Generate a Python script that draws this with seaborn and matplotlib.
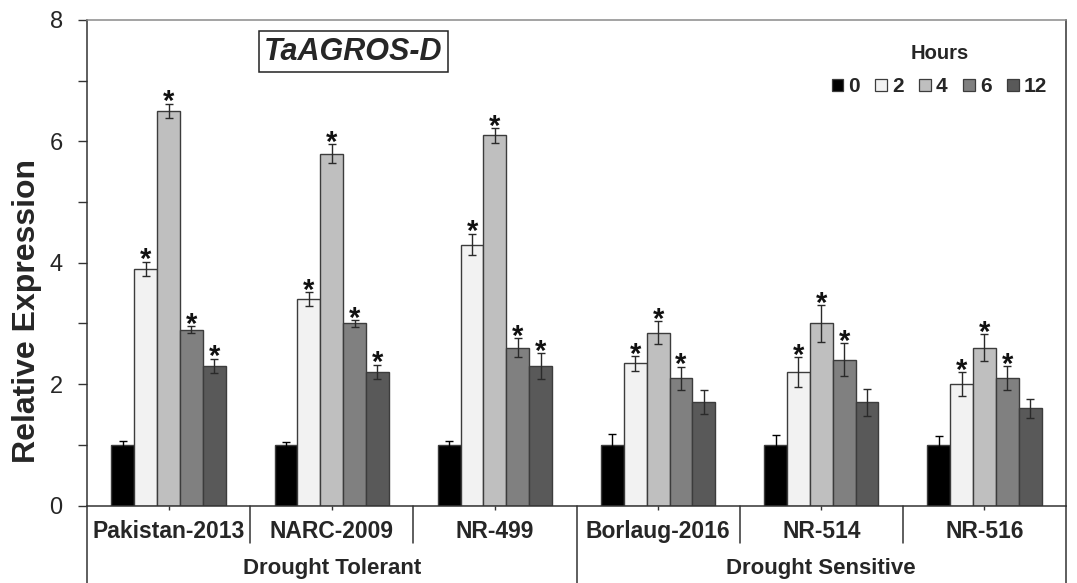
import numpy as np
import pandas as pd
import matplotlib
matplotlib.use("Agg")
import matplotlib.pyplot as plt
from matplotlib.patches import Patch
import seaborn as sns

# Cultivars and sampling times
categories = ["Pakistan-2013", "NARC-2009", "NR-499", "Borlaug-2016", "NR-514", "NR-516"]
groups = ["Drought Tolerant", "Drought Sensitive"]
hours = ["0", "2", "4", "6", "12"]

# Mean relative expression per time point
expr_0 = [1.0, 1.0, 1.0, 1.0, 1.0, 1.0]
expr_2 = [3.9, 3.4, 4.3, 2.34, 2.2, 2.0]
expr_4 = [6.5, 5.8, 6.1, 2.85, 3.0, 2.6]
expr_6 = [2.9, 3.0, 2.6, 2.1, 2.4, 2.1]
expr_12 = [2.3, 2.2, 2.3, 1.7, 1.7, 1.6]

# Standard errors
err_0 = [0.07, 0.05, 0.06, 0.17, 0.16, 0.15]
err_2 = [0.12, 0.12, 0.18, 0.12, 0.25, 0.20]
err_4 = [0.12, 0.16, 0.12, 0.19, 0.30, 0.22]
err_6 = [0.06, 0.06, 0.16, 0.19, 0.27, 0.20]
err_12 = [0.12, 0.12, 0.21, 0.20, 0.22, 0.16]

# Significance marks (1 = significant vs. 0 h)
sig_0 = [0, 0, 0, 0, 0, 0]
sig_2 = [1, 1, 1, 1, 1, 1]
sig_4 = [1, 1, 1, 1, 1, 1]
sig_6 = [1, 1, 1, 1, 1, 1]
sig_12 = [1, 1, 1, 0, 0, 0]

colors = ["#000000", "#f2f2f2", "#bfbfbf", "#808080", "#595959"]

values = [expr_0, expr_2, expr_4, expr_6, expr_12]
errors = [err_0, err_2, err_4, err_6, err_12]
sigs = [sig_0, sig_2, sig_4, sig_6, sig_12]

df = pd.DataFrame({
    "Cultivar": np.tile(categories, len(hours)),
    "Hours": np.repeat(hours, len(categories)),
    "Expression": np.concatenate(values),
})

sns.set_style("ticks")
plt.rcParams["font.family"] = ["Liberation Sans", "DejaVu Sans"]

fig = plt.figure(figsize=(10.77, 5.83), dpi=100)
ax = fig.add_axes([87 / 1077, 1 - 505.5 / 583, (1066 - 87) / 1077, (505.5 - 20) / 583])

sns.barplot(data=df, x="Cultivar", y="Expression", hue="Hours", order=categories,
            hue_order=hours, palette=colors, width=0.7, errorbar=None,
            edgecolor="#3c3c3c", linewidth=1.0, ax=ax, legend=False)

# Error bars and significance stars on each bar
for container, err, sig, col in zip(ax.containers, errors, sigs, colors):
    for bar, e, s in zip(container, err, sig):
        xc = bar.get_x() + bar.get_width() / 2
        h = bar.get_height()
        ecol = "#000000" if col == "#000000" else "#2a2a2a"
        ax.errorbar(xc, h, yerr=e, fmt="none", ecolor=ecol, elinewidth=1.0,
                    capsize=3.2, capthick=1.0, zorder=4)
        if s:
            ax.annotate("*", (xc, h + e), xytext=(0, -4.8), textcoords="offset points",
                        ha="center", va="baseline", fontsize=21, fontweight="bold",
                        color="#111111")

ax.set_xlim(-0.5, len(categories) - 0.5)
ax.set_ylim(0, 8)
ax.set_yticks([0, 2, 4, 6, 8])
ax.set_yticks([1, 3, 5, 7], minor=True)
ax.tick_params(axis="y", which="both", direction="out", length=6.5, width=1.0,
               color="#333333", labelsize=17, pad=11)
ax.tick_params(axis="x", which="major", direction="out", length=3, width=1.0,
               color="#333333", labelsize=15, pad=0)
ax.set_xticks(range(len(categories)))
ax.set_xticklabels([])
ax.set_xlabel("")
ax.set_ylabel("Relative Expression", fontsize=23, fontweight="bold")
ax.yaxis.set_label_coords(-0.046, 0.40)

for side in ["left", "bottom", "right", "top"]:
    ax.spines[side].set_visible(True)
    ax.spines[side].set_color("#333333")
    ax.spines[side].set_linewidth(1.1)
ax.spines["top"].set_color("#8a8a8a")

# Cultivar labels and separators below the axis
trans = ax.get_xaxis_transform()
for i, name in enumerate(categories):
    ax.text(i, -0.054, name, transform=trans, ha="center", va="center",
            fontsize=16.5, fontweight="bold")
for xb in [0.5, 1.5, 3.5, 4.5]:
    ax.plot([xb, xb], [0, -0.077], transform=trans, color="#333333", lw=1.1,
            clip_on=False)
for xb in [-0.5, 2.5, 5.5]:
    ax.plot([xb, xb], [0, -0.17], transform=trans, color="#333333", lw=1.1,
            clip_on=False)
ax.text(1.0, -0.129, groups[0], transform=trans, ha="center", va="center",
        fontsize=16, fontweight="bold")
ax.text(4.0, -0.129, groups[1], transform=trans, ha="center", va="center",
        fontsize=16, fontweight="bold")

# Gene name box
ax.text(0.272, 0.935, "TaAGROS-D", transform=ax.transAxes, ha="center", va="center",
        fontsize=22, fontweight="bold", fontstyle="italic",
        bbox=dict(boxstyle="square,pad=0.18", facecolor="white", edgecolor="#222222",
                  linewidth=1.1))

handles = [Patch(facecolor=c, edgecolor="#3c3c3c", linewidth=0.9) for c in colors]
leg = ax.legend(handles, hours, title="Hours", ncol=5, loc="upper right",
                bbox_to_anchor=(1.0, 0.99), frameon=False, handlelength=0.55,
                handleheight=0.55, handletextpad=0.25, columnspacing=0.75,
                labelspacing=0.7,
                prop={"weight": "bold", "size": 15},
                title_fontproperties={"weight": "bold", "size": 14.5})

fig.savefig("out.png", dpi=100)
